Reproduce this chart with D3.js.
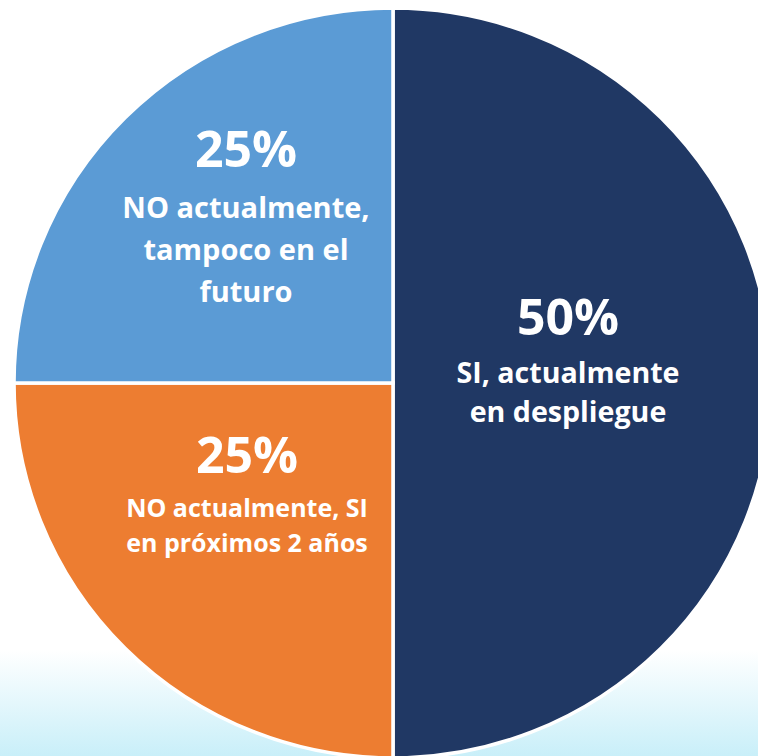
<!DOCTYPE html>
<html>
<head>
<meta charset="utf-8">
<script src="https://cdn.jsdelivr.net/npm/d3@7"></script>
<style>
  html, body { margin: 0; padding: 0; background: #ffffff; }
  svg { display: block; }
</style>
</head>
<body>
<script>
// Survey shares, drawn clockwise from twelve o'clock
const categories = [
  "SI, actualmente en despliegue",
  "NO actualmente, SI en próximos 2 años",
  "NO actualmente, tampoco en el futuro"
];
const values = [50, 25, 25];
const percentLabels = ["50%", "25%", "25%"];
const labelLines = [
  ["SI, actualmente", "en despliegue"],
  ["NO actualmente, SI", "en próximos 2 años"],
  ["NO actualmente,", "tampoco en el", "futuro"]
];
const colors = ["#203864", "#ed7d31", "#5b9bd5"];

const W = 758, H = 756;
const cx = 393, cy = 383;
const rx = 379, ry = 375;

const svg = d3.select("body").append("svg")
  .attr("width", W).attr("height", H);

// pale cyan wash along the bottom of the page
const defs = svg.append("defs");
const grad = defs.append("linearGradient")
  .attr("id", "bottomWash").attr("x1", 0).attr("y1", 0).attr("x2", 0).attr("y2", 1);
grad.append("stop").attr("offset", "0%").attr("stop-color", "#ffffff");
grad.append("stop").attr("offset", "86%").attr("stop-color", "#ffffff");
grad.append("stop").attr("offset", "100%").attr("stop-color", "#c9eff9");
svg.append("rect").attr("width", W).attr("height", H).attr("fill", "url(#bottomWash)");

const pie = d3.pie().sort(null).value(d => d)
  .startAngle(0).endAngle(2 * Math.PI);
const arcs = pie(values);

const arc = d3.arc().innerRadius(0).outerRadius(ry);

const g = svg.append("g")
  .attr("transform", `translate(${cx},${cy}) scale(${rx / ry},1)`);

g.selectAll("path.slice")
  .data(arcs)
  .join("path")
  .attr("class", "slice")
  .attr("d", arc)
  .attr("fill", (d, i) => colors[i])
  .attr("stroke", "#ffffff")
  .attr("stroke-width", 3.5)
  .attr("stroke-linejoin", "miter");

// label blocks: percentage on top, description lines beneath
const labelLayout = [
  { dx: 175, pctBase: -48, lineBase: 0, lineGap: 38.5, size: 28.6 },
  { dx: -146, pctBase: 90, lineBase: 134, lineGap: 35, size: 25 },
  { dx: -147, pctBase: -216, lineBase: -165, lineGap: 42, size: 29 }
];

const labels = svg.append("g")
  .attr("font-family", "'Open Sans', 'Noto Sans', sans-serif")
  .attr("font-weight", 700)
  .attr("fill", "#ffffff")
  .attr("text-anchor", "middle");

arcs.forEach((a, i) => {
  const L = labelLayout[i];
  const x = cx + L.dx;
  labels.append("text")
    .attr("x", x).attr("y", cy + L.pctBase)
    .attr("font-size", 50)
    .text(percentLabels[i]);
  labelLines[i].forEach((line, j) => {
    labels.append("text")
      .attr("x", x).attr("y", cy + L.lineBase + j * L.lineGap)
      .attr("font-size", L.size)
      .text(line);
  });
});
</script>
</body>
</html>
